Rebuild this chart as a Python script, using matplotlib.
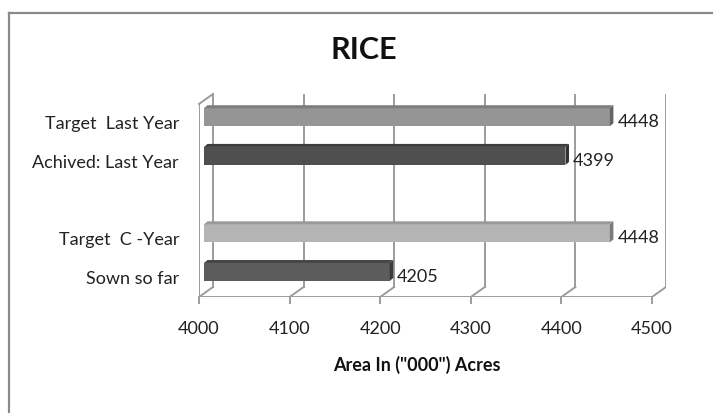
import matplotlib.pyplot as plt
from matplotlib.patches import Polygon
from matplotlib.lines import Line2D

plt.rcParams['font.family'] = ['Lato', 'DejaVu Sans']

# data (bottom to top), blank slot separates the two years
categories = ["Sown so far", "Target  C -Year", "", "Achived: Last Year", "Target  Last Year"]
values = [4205, 4448, None, 4399, 4448]
front_colors = ["#5c5c5c", "#b4b4b4", None, "#4f4f4f", "#959595"]
top_colors = ["#474747", "#999999", None, "#3c3c3c", "#7d7d7d"]
side_colors = ["#3a3a3a", "#7a7a7a", None, "#303030", "#646464"]
xticks = [4000, 4100, 4200, 4300, 4400, 4500]

W, H = 713, 414
fig = plt.figure(figsize=(W / 100, H / 100), dpi=100)

# plot box in pixels: front floor left 199, back right 666, top 95, floor front 298
px_per_unit = 0.906
ax = fig.add_axes([199 / W, (H - 298) / H, 467 / W, 203 / H])
x0 = 4000
ax.set_xlim(x0, x0 + 467 / px_per_unit)
y_lo, y_hi = -0.646, 4.6
ax.set_ylim(y_lo, y_hi)
ax.axis("off")

py_per_unit = 203 / (y_hi - y_lo)
DX = 14 / px_per_unit        # wall depth
DY = 10 / py_per_unit
grid_c = "#9c9c9c"
lw = 1.4
y_back = y_lo + DY
txt_c = "#222222"

# back wall vertical gridlines and floor diagonals
for t in xticks:
    ax.plot([t + DX, t + DX], [y_back, y_hi], color=grid_c, lw=lw, zorder=1)
    ax.plot([t, t + DX], [y_lo, y_back], color=grid_c, lw=lw, zorder=1)
    ax.plot([t, t], [y_lo, y_lo - 6 / py_per_unit], color=grid_c, lw=lw,
            zorder=1, clip_on=False)
    ax.text(t, y_lo - 31 / py_per_unit, str(t), ha="center", va="center",
            fontsize=13, color=txt_c)
# front floor edge
ax.plot([xticks[0], xticks[-1]], [y_lo, y_lo], color=grid_c, lw=lw, zorder=1)
# left side wall
y_top_front = y_hi - DY
ax.plot([x0, x0], [y_lo, y_top_front], color=grid_c, lw=lw, zorder=1)
ax.plot([x0, x0 + DX], [y_top_front, y_hi], color=grid_c, lw=lw, zorder=1,
        clip_on=False)

# bars with a thin 3d look
bh = 0.465
bx = 5 / px_per_unit
ddx = 3.5 / px_per_unit
ddy = 3 / py_per_unit
for i, (cat, v) in enumerate(zip(categories, values)):
    if v is None:
        continue
    left = x0 + bx
    w = v - x0
    ax.barh(i, w, left=left, height=bh, color=front_colors[i], zorder=3)
    top = i + bh / 2
    ax.add_patch(Polygon([(left, top), (left + w, top), (left + w + ddx, top + ddy),
                          (left + ddx, top + ddy)], closed=True,
                         facecolor=top_colors[i], edgecolor="none", zorder=3))
    bot = i - bh / 2
    ax.add_patch(Polygon([(left + w, bot), (left + w, top), (left + w + ddx, top + ddy),
                          (left + w + ddx, bot + ddy)], closed=True,
                         facecolor=side_colors[i], edgecolor="none", zorder=3))
    ax.text(left + w + ddx + 4 / px_per_unit, i - 0.1, str(v), ha="left",
            va="center", fontsize=13, color=txt_c)

for i, cat in enumerate(categories):
    if cat:
        ax.text(x0 - 20 / px_per_unit, i - 0.15, cat, ha="right", va="center",
                fontsize=13, color=txt_c)

fig.text(364 / W, 1 - 50 / H, "RICE", ha="center", va="center",
         fontsize=22, fontweight="bold", color="#111111")
fig.text(417 / W, 1 - 365 / H, 'Area In ("000") Acres', ha="center",
         va="center", fontsize=13, fontweight="bold", color="#111111")

# outer chart border (left and top visible)
fig.add_artist(Line2D([9 / W, 9 / W], [0, 1 - 14 / H], color="#8a8a8a", lw=1.6))
fig.add_artist(Line2D([9 / W, 1], [1 - 14 / H, 1 - 14 / H], color="#8a8a8a", lw=1.6))

fig.savefig("out.png", dpi=100)
